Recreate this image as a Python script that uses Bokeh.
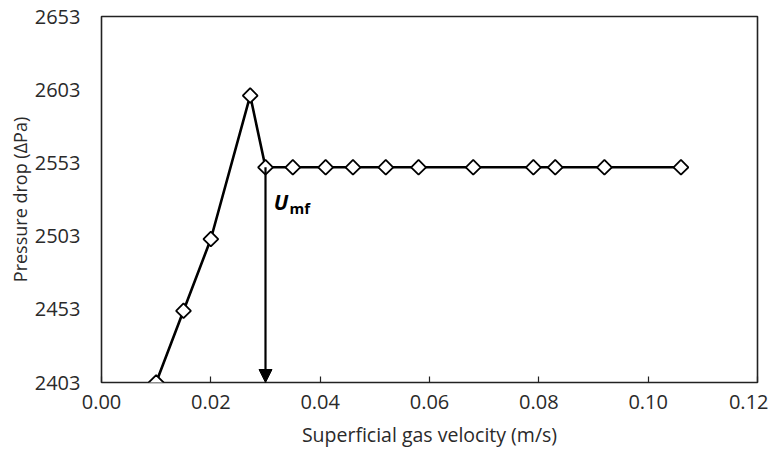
import math
from bokeh.plotting import figure
from bokeh.models import FixedTicker, Arrow, NormalHead, CustomJSTickFormatter, ColumnDataSource
from bokeh.core.properties import value
from bokeh.embed import file_html
from bokeh.resources import INLINE

# Data
velocity = [0.010, 0.015, 0.020, 0.0272, 0.030, 0.035, 0.041, 0.046, 0.052,
            0.058, 0.068, 0.079, 0.083, 0.092, 0.106]
pressure = [2403, 2452, 2501, 2599, 2550, 2550, 2550, 2550, 2550,
            2550, 2550, 2550, 2550, 2550, 2550]
x_ticks = [0.00, 0.02, 0.04, 0.06, 0.08, 0.10, 0.12]
y_ticks = [2403, 2453, 2503, 2553, 2603, 2653]
umf_velocity = 0.030
umf_pressure = 2550
umf_label_x = 0.0315
umf_label_y = 2526

FONT = "Open Sans"
TXT = "#2a2a2a"

p = figure(width=768, height=450, output_backend="svg", toolbar_location=None,
           x_range=(0, 0.12), y_range=(2403, 2653),
           min_border_left=101, min_border_right=11, min_border_top=16, min_border_bottom=66)
p.background_fill_color = "white"
p.border_fill_color = "white"
p.grid.visible = False
p.outline_line_color = "#222222"
p.outline_line_width = 1.6

p.xaxis.ticker = FixedTicker(ticks=x_ticks)
p.yaxis.ticker = FixedTicker(ticks=y_ticks)
p.xaxis.formatter = CustomJSTickFormatter(code="return tick.toFixed(2);")
p.xaxis.axis_label = "Superficial gas velocity (m/s)"
p.yaxis.axis_label = "Pressure drop (\u0394Pa)"
for ax in (p.xaxis, p.yaxis):
    ax.axis_line_color = None
    ax.major_label_text_font = FONT
    ax.major_label_text_font_size = "20px"
    ax.major_label_text_color = TXT
    ax.axis_label_text_font = FONT
    ax.axis_label_text_font_style = "normal"
    ax.axis_label_text_color = TXT
    ax.minor_tick_line_color = None
p.xaxis.axis_label_text_font_size = "19.5px"
p.yaxis.axis_label_text_font_size = "18px"
p.xaxis.major_tick_in = 6
p.xaxis.major_tick_out = 0
p.xaxis.major_tick_line_color = "#222222"
p.xaxis.major_tick_line_width = 1.2
p.xaxis.major_label_standoff = 12
p.xaxis.axis_label_standoff = 9
p.yaxis.major_tick_line_color = None
p.yaxis.major_label_standoff = 15
p.yaxis.axis_label_standoff = 0

src = ColumnDataSource(dict(x=velocity, y=pressure))
p.line("x", "y", source=src, line_color="black", line_width=2.6)
p.scatter("x", "y", source=src, marker="square", angle=math.pi / 4, size=10.5,
          fill_color="white", line_color="black", line_width=1.8)

arrow = Arrow(end=NormalHead(size=13, fill_color="black", line_color="black"),
              x_start=umf_velocity, y_start=umf_pressure,
              x_end=umf_velocity, y_end=y_ticks[0],
              line_color="black", line_width=2.2)
p.add_layout(arrow)

p.text(x=[umf_label_x], y=[umf_label_y], text=["U"], text_font=value(FONT),
       text_font_size="21px", text_font_style="bold italic", text_color="black",
       text_baseline="middle", text_align="left")
p.text(x=[umf_label_x + 0.0029], y=[umf_label_y - 4], text=["mf"], text_font=value(FONT),
       text_font_size="15px", text_font_style="bold", text_color="black",
       text_baseline="middle", text_align="left")

open("out.html", "w").write(file_html(p, INLINE))
